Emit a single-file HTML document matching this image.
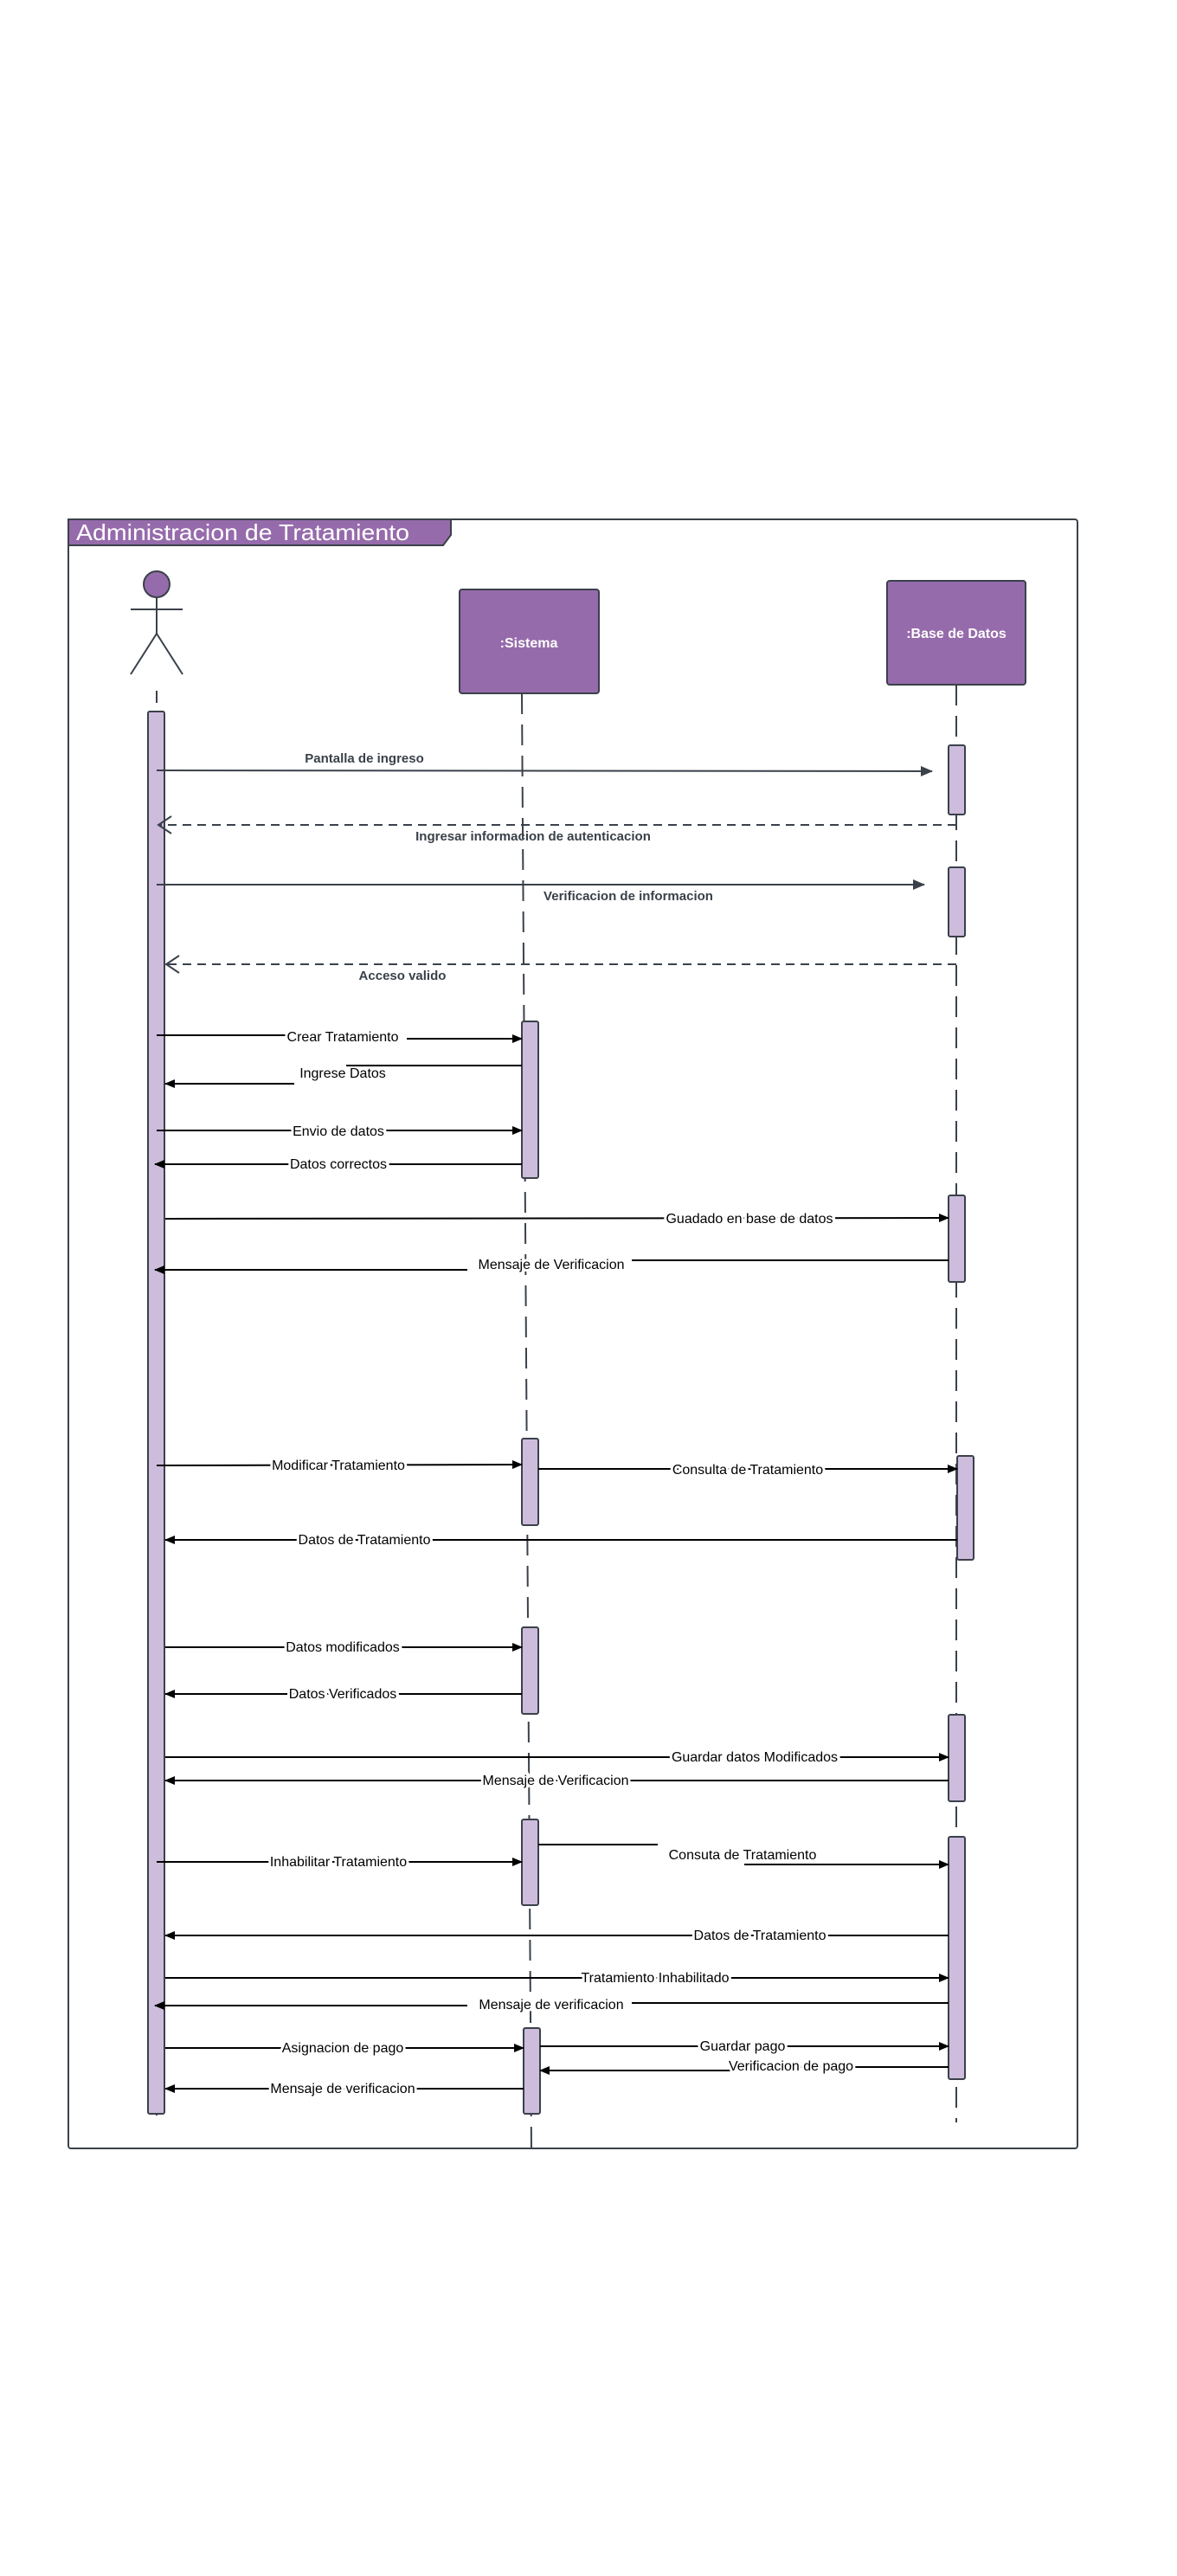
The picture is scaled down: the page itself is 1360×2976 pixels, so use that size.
<!DOCTYPE html>
<html><head><meta charset="utf-8"><style>
html,body{margin:0;padding:0;background:#fff;}
svg{display:block;}
.t{font-family:"Liberation Sans",sans-serif;font-size:16px;fill:#000;}
.h{font-family:"Liberation Sans",sans-serif;font-size:15px;fill:#3a414a;font-weight:bold;}
</style></head><body>
<svg width="1360" height="2976" viewBox="0 0 1360 2976" xmlns="http://www.w3.org/2000/svg">
<defs>
<marker id="a" markerWidth="12" markerHeight="10" refX="11" refY="5" orient="auto" markerUnits="userSpaceOnUse"><path d="M0,0 L12,5 L0,10 z" fill="#000"/></marker>
<marker id="g" markerWidth="14" markerHeight="12" refX="13" refY="6" orient="auto" markerUnits="userSpaceOnUse"><path d="M0,0 L14,6 L0,12 z" fill="#3a414a"/></marker>
<marker id="o" markerWidth="18" markerHeight="22" refX="16" refY="11" orient="auto" markerUnits="userSpaceOnUse"><path d="M1,1 L16,11 L1,21" fill="none" stroke="#3a414a" stroke-width="2"/></marker>
</defs>
<!-- frame -->
<rect x="79" y="600" width="1166" height="1882" rx="3" fill="none" stroke="#3a414a" stroke-width="2"/>
<path d="M79,600 L521,600 L521,618 L512,630 L79,630 z" fill="#966bab" stroke="#3a414a" stroke-width="2"/>
<text x="88" y="624" style="font-family:'Liberation Sans',sans-serif;font-size:26px;fill:#fff" textLength="385" lengthAdjust="spacingAndGlyphs">Administracion de Tratamiento</text>
<!-- actor -->
<circle cx="181" cy="675" r="15" fill="#966bab" stroke="#3a414a" stroke-width="2"/>
<line x1="181" y1="690" x2="181" y2="732" stroke="#3a414a" stroke-width="2"/>
<line x1="151" y1="704" x2="211" y2="704" stroke="#3a414a" stroke-width="2"/>
<line x1="181" y1="732" x2="151" y2="779" stroke="#3a414a" stroke-width="2"/>
<line x1="181" y1="732" x2="211" y2="779" stroke="#3a414a" stroke-width="2"/>
<line x1="181" y1="798" x2="181" y2="2452" stroke="#3a414a" stroke-width="2" stroke-dasharray="14,10"/>
<!-- boxes -->
<rect x="531" y="681" width="161" height="120" rx="3" fill="#966bab" stroke="#3a414a" stroke-width="2"/>
<text x="611" y="748" text-anchor="middle" style="font-family:'Liberation Sans',sans-serif;font-size:16px;font-weight:bold;fill:#fff">:Sistema</text>
<rect x="1025" y="671" width="160" height="120" rx="3" fill="#966bab" stroke="#3a414a" stroke-width="2"/>
<text x="1105" y="737" text-anchor="middle" style="font-family:'Liberation Sans',sans-serif;font-size:16px;font-weight:bold;fill:#fff">:Base de Datos</text>
<!-- lifelines -->
<line x1="603" y1="801" x2="614" y2="2485" stroke="#3a414a" stroke-width="2" stroke-dasharray="24,12"/>
<line x1="1105" y1="791" x2="1105" y2="2452" stroke="#3a414a" stroke-width="2" stroke-dasharray="24,12"/>
<!-- activations -->
<g fill="#cdbcdc" stroke="#3a414a" stroke-width="2">
<rect x="171" y="822" width="19" height="1620" rx="2"/>
<rect x="1096" y="861" width="19" height="80" rx="2"/>
<rect x="1096" y="1002" width="19" height="80" rx="2"/>
<rect x="603" y="1180" width="19" height="181" rx="2"/>
<rect x="1096" y="1381" width="19" height="100" rx="2"/>
<rect x="603" y="1662" width="19" height="100" rx="2"/>
<rect x="1106" y="1682" width="19" height="120" rx="2"/>
<rect x="603" y="1880" width="19" height="100" rx="2"/>
<rect x="1096" y="1981" width="19" height="100" rx="2"/>
<rect x="603" y="2102" width="19" height="99" rx="2"/>
<rect x="1096" y="2122" width="19" height="280" rx="2"/>
<rect x="605" y="2343" width="19" height="99" rx="2"/>
</g>
<!-- top messages -->
<g stroke="#3a414a" stroke-width="2" fill="none">
<line x1="181" y1="890" x2="1077" y2="891" marker-end="url(#g)"/>
<line x1="1105" y1="953" x2="183" y2="953" stroke-dasharray="10,7" marker-end="url(#o)"/>
<line x1="181" y1="1022" x2="1068" y2="1022" marker-end="url(#g)"/>
<line x1="1105" y1="1114" x2="192" y2="1114" stroke-dasharray="10,7" marker-end="url(#o)"/>
</g>
<text class="h" x="421" y="881" text-anchor="middle">Pantalla de ingreso</text>
<text class="h" x="616" y="971" text-anchor="middle">Ingresar informacion de autenticacion</text>
<text class="h" x="726" y="1040" text-anchor="middle">Verificacion de informacion</text>
<text class="h" x="465" y="1132" text-anchor="middle">Acceso valido</text>
<!-- black messages -->
<g stroke="#000" stroke-width="2" fill="none">
<path d="M181,1196 L330,1196 M470,1200 L603,1200" marker-end="url(#a)"/>
<path d="M603,1231 L400,1231"/>
<path d="M340,1252 L191,1252" marker-end="url(#a)"/>
<line x1="181" y1="1306" x2="603" y2="1306" marker-end="url(#a)"/>
<line x1="603" y1="1345" x2="179" y2="1345" marker-end="url(#a)"/>
<line x1="191" y1="1408" x2="1096" y2="1407" marker-end="url(#a)"/>
<path d="M1096,1456 L730,1456 M540,1467 L179,1467" marker-end="url(#a)"/>
<line x1="181" y1="1693" x2="603" y2="1692" marker-end="url(#a)"/>
<line x1="622" y1="1697" x2="1106" y2="1697" marker-end="url(#a)"/>
<line x1="1106" y1="1779" x2="191" y2="1779" marker-end="url(#a)"/>
<line x1="191" y1="1903" x2="603" y2="1903" marker-end="url(#a)"/>
<line x1="603" y1="1957" x2="191" y2="1957" marker-end="url(#a)"/>
<line x1="191" y1="2030" x2="1096" y2="2030" marker-end="url(#a)"/>
<line x1="1096" y1="2057" x2="191" y2="2057" marker-end="url(#a)"/>
<path d="M622,2131 L760,2131"/>
<path d="M860,2154 L1096,2154" marker-end="url(#a)"/>
<line x1="181" y1="2151" x2="603" y2="2151" marker-end="url(#a)"/>
<line x1="1096" y1="2236" x2="191" y2="2236" marker-end="url(#a)"/>
<line x1="191" y1="2285" x2="1096" y2="2285" marker-end="url(#a)"/>
<path d="M1096,2314 L730,2314 M540,2317 L179,2317" marker-end="url(#a)"/>
<line x1="191" y1="2366" x2="605" y2="2366" marker-end="url(#a)"/>
<line x1="624" y1="2364" x2="1096" y2="2364" marker-end="url(#a)"/>
<path d="M1096,2388 L900,2388 L900,2392 L624,2392" marker-end="url(#a)"/>
<line x1="605" y1="2413" x2="191" y2="2413" marker-end="url(#a)"/>
</g>
<g class="t" text-anchor="middle">
<text x="396" y="1203" style="paint-order:stroke;stroke:#fff;stroke-width:6px">Crear Tratamiento</text>
<text x="396" y="1245">Ingrese Datos</text>
<text x="391" y="1312" style="paint-order:stroke;stroke:#fff;stroke-width:6px">Envio de datos</text>
<text x="391" y="1350" style="paint-order:stroke;stroke:#fff;stroke-width:6px">Datos correctos</text>
<text x="866" y="1413" style="paint-order:stroke;stroke:#fff;stroke-width:6px">Guadado en base de datos</text>
<text x="637" y="1466" style="paint-order:stroke;stroke:#fff;stroke-width:6px">Mensaje de Verificacion</text>
<text x="391" y="1698" style="paint-order:stroke;stroke:#fff;stroke-width:6px">Modificar Tratamiento</text>
<text x="864" y="1703" style="paint-order:stroke;stroke:#fff;stroke-width:6px">Consulta de Tratamiento</text>
<text x="421" y="1784" style="paint-order:stroke;stroke:#fff;stroke-width:6px">Datos de Tratamiento</text>
<text x="396" y="1908" style="paint-order:stroke;stroke:#fff;stroke-width:6px">Datos modificados</text>
<text x="396" y="1962" style="paint-order:stroke;stroke:#fff;stroke-width:6px">Datos Verificados</text>
<text x="872" y="2035" style="paint-order:stroke;stroke:#fff;stroke-width:6px">Guardar datos Modificados</text>
<text x="642" y="2062" style="paint-order:stroke;stroke:#fff;stroke-width:6px">Mensaje de Verificacion</text>
<text x="858" y="2148">Consuta de Tratamiento</text>
<text x="391" y="2156" style="paint-order:stroke;stroke:#fff;stroke-width:6px">Inhabilitar Tratamiento</text>
<text x="878" y="2241" style="paint-order:stroke;stroke:#fff;stroke-width:6px">Datos de Tratamiento</text>
<text x="757" y="2290" style="paint-order:stroke;stroke:#fff;stroke-width:6px">Tratamiento Inhabilitado</text>
<text x="637" y="2321" style="paint-order:stroke;stroke:#fff;stroke-width:6px">Mensaje de verificacion</text>
<text x="396" y="2371" style="paint-order:stroke;stroke:#fff;stroke-width:6px">Asignacion de pago</text>
<text x="858" y="2369" style="paint-order:stroke;stroke:#fff;stroke-width:6px">Guardar pago</text>
<text x="914" y="2392" style="paint-order:stroke;stroke:#fff;stroke-width:6px">Verificacion de pago</text>
<text x="396" y="2418" style="paint-order:stroke;stroke:#fff;stroke-width:6px">Mensaje de verificacion</text>
</g>
</svg>
</body></html>
